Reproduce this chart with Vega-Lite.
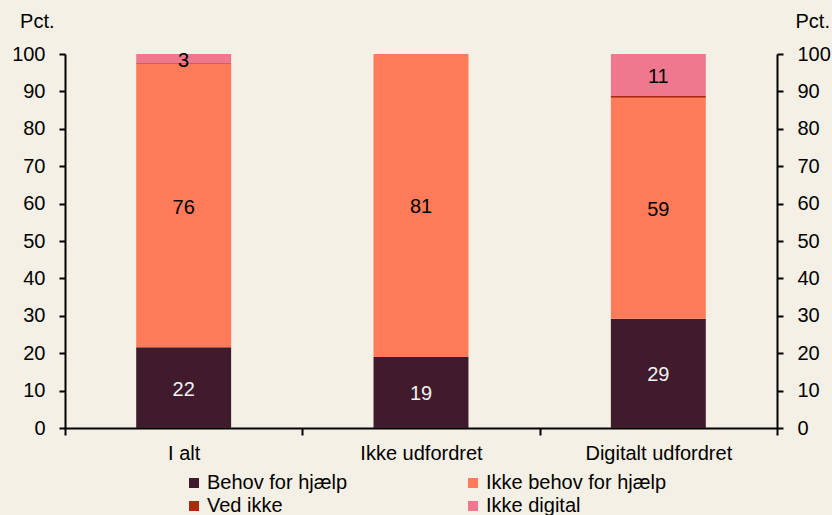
{
  "$schema": "https://vega.github.io/schema/vega-lite/v6.json",
  "width": 712,
  "height": 374,
  "autosize": {"type": "none"},
  "padding": {"left": 65, "top": 54, "right": 55, "bottom": 87},
  "background": "#F4F0E5",
  "config": {
    "view": {"stroke": null},
    "font": "Liberation Sans",
    "axis": {"labelFont": "Liberation Sans", "titleFont": "Liberation Sans", "labelFontSize": 20, "titleFontSize": 20, "labelColor": "#000000", "titleColor": "#000000", "domainColor": "#000000", "tickColor": "#000000", "domainWidth": 2, "tickWidth": 2, "grid": false, "titleFontWeight": "normal"},
    "legend": {"labelFont": "Liberation Sans", "labelFontSize": 20, "labelColor": "#000000"}
  },
  "data": {
    "values": [
      {"gruppe": "I alt", "kategori": "Behov for hjælp", "ord": 1, "pct": 21.6},
      {"gruppe": "I alt", "kategori": "Ikke behov for hjælp", "ord": 2, "pct": 75.7},
      {"gruppe": "I alt", "kategori": "Ved ikke", "ord": 3, "pct": 0.2},
      {"gruppe": "I alt", "kategori": "Ikke digital", "ord": 4, "pct": 2.5},
      {"gruppe": "Ikke udfordret", "kategori": "Behov for hjælp", "ord": 1, "pct": 19.0},
      {"gruppe": "Ikke udfordret", "kategori": "Ikke behov for hjælp", "ord": 2, "pct": 81.0},
      {"gruppe": "Ikke udfordret", "kategori": "Ved ikke", "ord": 3, "pct": 0},
      {"gruppe": "Ikke udfordret", "kategori": "Ikke digital", "ord": 4, "pct": 0},
      {"gruppe": "Digitalt udfordret", "kategori": "Behov for hjælp", "ord": 1, "pct": 29.2},
      {"gruppe": "Digitalt udfordret", "kategori": "Ikke behov for hjælp", "ord": 2, "pct": 59.1},
      {"gruppe": "Digitalt udfordret", "kategori": "Ved ikke", "ord": 3, "pct": 0.5},
      {"gruppe": "Digitalt udfordret", "kategori": "Ikke digital", "ord": 4, "pct": 11.2}
    ]
  },
  "encoding": {
    "x": {
      "field": "gruppe", "type": "nominal",
      "sort": ["I alt", "Ikke udfordret", "Digitalt udfordret"],
      "scale": {"paddingInner": 0, "paddingOuter": 0},
      "axis": {"title": null, "labelAngle": 0, "tickSize": 7, "labelPadding": 8, "tickBand": "extent"}
    }
  },
  "layer": [
    {
      "mark": {"type": "bar", "width": {"band": 0.4}},
      "encoding": {
        "y": {
          "field": "pct", "type": "quantitative", "stack": "zero",
          "scale": {"domain": [0, 100], "nice": false},
          "axis": {"orient": "left", "values": [0,10,20,30,40,50,60,70,80,90,100], "tickSize": 6, "labelPadding": 14, "title": "Pct.", "titleAngle": 0, "titleAlign": "right", "titleBaseline": "alphabetic", "titleX": -11, "titleY": -27}
        },
        "color": {
          "field": "kategori", "type": "nominal",
          "scale": {"domain": ["Behov for hjælp", "Ikke behov for hjælp", "Ved ikke", "Ikke digital"], "range": ["#3F1B2C", "#FF7B5A", "#B0280C", "#F0788E"]},
          "legend": {"title": null, "orient": "none", "direction": "horizontal", "legendX": 119, "legendY": 419, "columns": 2, "symbolType": "square", "symbolSize": 100, "symbolStrokeWidth": 0, "labelOffset": 3, "labelLimit": 400, "columnPadding": 115, "rowPadding": 3}
        },
        "order": {"field": "ord", "type": "quantitative"}
      }
    },
    {
      "transform": [
        {"stack": "pct", "groupby": ["gruppe"], "sort": [{"field": "ord"}], "as": ["y0", "y1"]},
        {"calculate": "(datum.y0 + datum.y1) / 2", "as": "ymid"},
        {"filter": "datum.pct >= 1"}
      ],
      "mark": {"type": "text", "fontSize": 20, "baseline": "middle", "align": "center", "dy": 2},
      "encoding": {
        "y": {
          "field": "ymid", "type": "quantitative",
          "scale": {"domain": [0, 100], "nice": false},
          "axis": {"orient": "right", "values": [0,10,20,30,40,50,60,70,80,90,100], "tickSize": 6, "labelPadding": 14, "title": "Pct.", "titleAngle": 0, "titleAlign": "left", "titleBaseline": "alphabetic", "titleX": 18, "titleY": -27}
        },
        "text": {"field": "pct", "type": "quantitative", "format": ".0f"},
        "color": {
          "condition": {"test": "datum.ord == 1", "value": "#F2F2F2"},
          "value": "#000000"
        }
      }
    }
  ],
  "resolve": {"axis": {"y": "independent"}, "scale": {"color": "independent"}}
}
